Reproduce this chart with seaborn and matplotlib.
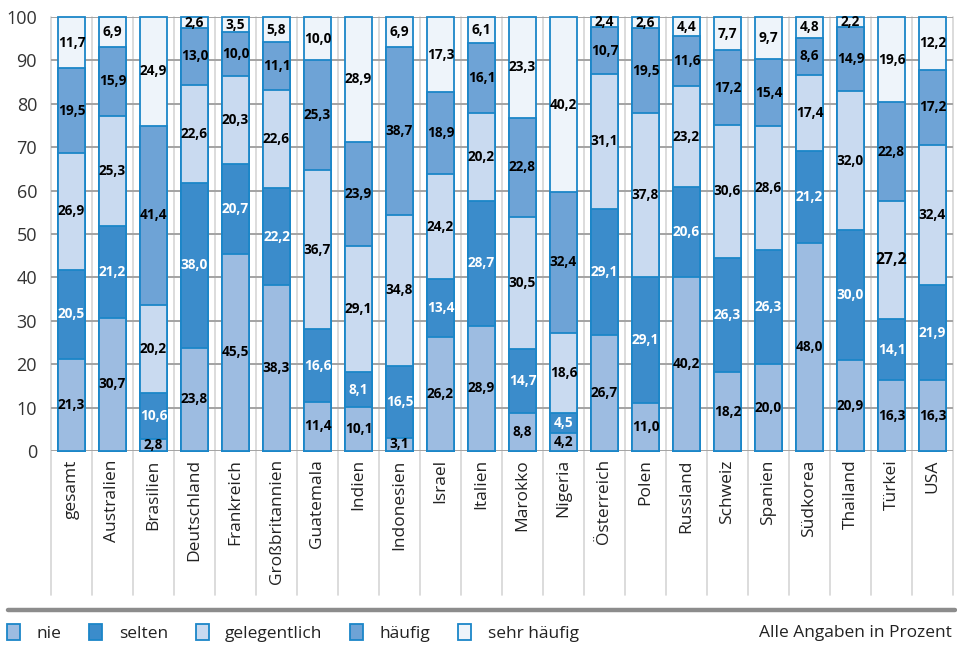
import matplotlib
matplotlib.use("Agg")
import matplotlib.pyplot as plt
from matplotlib.lines import Line2D
from matplotlib.patches import Patch
import numpy as np
import pandas as pd
import seaborn as sns

# Countries (first column is the overall total)
countries = ["gesamt", "Australien", "Brasilien", "Deutschland", "Frankreich",
             "Großbritannien", "Guatemala", "Indien", "Indonesien", "Israel",
             "Italien", "Marokko", "Nigeria", "Österreich", "Polen", "Russland",
             "Schweiz", "Spanien", "Südkorea", "Thailand", "Türkei", "USA"]

categories = ["nie", "selten", "gelegentlich", "häufig", "sehr häufig"]

nie = [21.3, 30.7, 2.8, 23.8, 45.5, 38.3, 11.4, 10.1, 3.1, 26.2, 28.9,
       8.8, 4.2, 26.7, 11.0, 40.2, 18.2, 20.0, 48.0, 20.9, 16.3, 16.3]
selten = [20.5, 21.2, 10.6, 38.0, 20.7, 22.2, 16.6, 8.1, 16.5, 13.4, 28.7,
          14.7, 4.5, 29.1, 29.1, 20.6, 26.3, 26.3, 21.2, 30.0, 14.1, 21.9]
gelegentlich = [26.9, 25.3, 20.2, 22.6, 20.3, 22.6, 36.7, 29.1, 34.8, 24.2, 20.2,
                30.5, 18.6, 31.1, 37.8, 23.2, 30.6, 28.6, 17.4, 32.0, 27.2, 32.4]
haeufig = [19.5, 15.9, 41.4, 13.0, 10.0, 11.1, 25.3, 23.9, 38.7, 18.9, 16.1,
           22.8, 32.4, 10.7, 19.5, 11.6, 17.2, 15.4, 8.6, 14.9, 22.8, 17.2]
sehr_haeufig = [11.7, 6.9, 24.9, 2.6, 3.5, 5.8, 10.0, 28.9, 6.9, 17.3, 6.1,
                23.3, 40.2, 2.4, 2.6, 4.4, 7.7, 9.7, 4.8, 2.2, 19.6, 12.2]

series = [nie, selten, gelegentlich, haeufig, sehr_haeufig]
fills = ["#9dbce1", "#3b8ccb", "#c9daf0", "#6ea3d6", "#eef4fa"]
label_colors = ["black", "white", "black", "black", "black"]
edge = "#1b86c8"

sns.set_style("white")
plt.rcParams["font.family"] = ["Open Sans", "DejaVu Sans"]

df = pd.DataFrame({"Land": countries})
cum = np.zeros(len(countries))
for name, vals in zip(categories, series):
    df[name] = vals
    cum = cum + np.array(vals)
    df["cum_" + name] = cum

fig = plt.figure(figsize=(9.57, 6.53), dpi=100)
ax = fig.add_axes([51 / 957, 1 - 451 / 653, (953 - 51) / 957, (451 - 17) / 653])

# Stacked bars: draw cumulative totals from the top layer downwards
for name, color in reversed(list(zip(categories, fills))):
    sns.barplot(data=df, x="Land", y="cum_" + name, order=countries,
                color=color, saturation=1, width=0.66, edgecolor=edge,
                linewidth=1.3, ax=ax, zorder=3)

for p in ax.patches:
    p.set_clip_on(False)

# Segment value labels
for i, land in enumerate(countries):
    base = 0.0
    for k, vals in enumerate(series):
        v = vals[i]
        size = 9.8
        if land == "Türkei" and k == 2:
            size = 11.3
        ax.text(i, base + v / 2, f"{v:.1f}".replace(".", ","),
                ha="center", va="center", fontsize=size, fontweight="bold",
                color=label_colors[k], zorder=5)
        base += v

ax.set_xlim(-0.5, len(countries) - 0.5)
ax.set_ylim(0, 100)
ax.set_yticks(range(0, 101, 10))
ax.set_xlabel("")
ax.set_ylabel("")
for s in ax.spines.values():
    s.set_visible(False)

ax.yaxis.grid(True, color="#a3a3a3", linewidth=1.4, zorder=1)
ax.xaxis.grid(False)
ax.set_axisbelow(True)

# Category separators running down through the label area
for b in np.arange(len(countries) + 1) - 0.5:
    ax.plot([b, b], [100, -33.2], color="#d6d6d6", linewidth=1.2,
            clip_on=False, zorder=0.5)

ax.tick_params(axis="y", length=0, pad=10, labelsize=13, labelcolor="#333333")
ax.tick_params(axis="x", length=0, pad=6, labelsize=12.5, labelcolor="#222222")
plt.setp(ax.get_xticklabels(), rotation=90, va="top", ha="center")

# Separator rule above the legend
fig.add_artist(Line2D([8 / 957, 955 / 957], [1 - 610 / 653] * 2,
                      color="#8c8c8c", linewidth=3.2))

handles = [Patch(facecolor=c, edgecolor=edge, linewidth=1.3) for c in fills]
fig.legend(handles, categories, loc="center left",
           bbox_to_anchor=(7 / 957, 1 - 633 / 653), ncol=5, frameon=False,
           fontsize=12.5, handlelength=0.75, handleheight=1.05,
           handletextpad=0.95, columnspacing=1.6, borderaxespad=0,
           borderpad=0, labelcolor="#222222")

fig.text(952 / 957, 1 - 633 / 653, "Alle Angaben in Prozent", ha="right",
         va="center", fontsize=12.5, color="#222222")

fig.savefig("out.png", dpi=100)
